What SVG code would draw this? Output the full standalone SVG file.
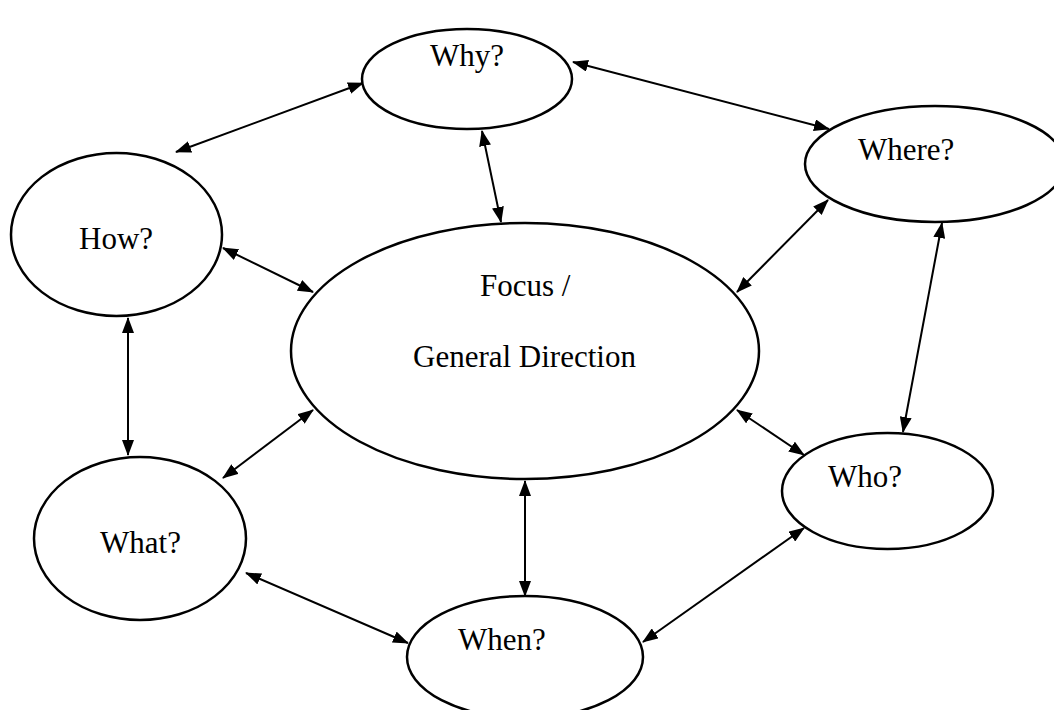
<svg xmlns="http://www.w3.org/2000/svg" width="1054" height="710" viewBox="0 0 1054 710">
  <style>
    .node { fill: #ffffff; stroke: #000000; stroke-width: 2.5; }
    .label { font-family: "Liberation Serif", "Times New Roman", serif; font-size: 31px; fill: #000000; }
    .link { stroke: #000000; stroke-width: 2; fill: none; marker-start: url(#head); marker-end: url(#head); }
  </style>
  <defs>
    <marker id="head" viewBox="0 0 16 12" markerUnits="userSpaceOnUse" markerWidth="16" markerHeight="12" refX="15" refY="6" orient="auto-start-reverse">
      <path d="M0,0 L16,6 L0,12 z" fill="#000000"/>
    </marker>
  </defs>
  <rect width="1054" height="710" fill="#ffffff"/>

  <!-- two-headed connectors between the question bubbles and the centre -->
  <g id="connectors">
    <line class="link" x1="176" y1="152" x2="363" y2="83"/>
    <line class="link" x1="573" y1="62" x2="829" y2="129"/>
    <line class="link" x1="482" y1="131" x2="501" y2="222"/>
    <line class="link" x1="223" y1="248" x2="313" y2="292"/>
    <line class="link" x1="828" y1="200" x2="737" y2="292"/>
    <line class="link" x1="942" y1="223" x2="903" y2="432"/>
    <line class="link" x1="128" y1="318" x2="128" y2="455"/>
    <line class="link" x1="313" y1="410" x2="223" y2="478"/>
    <line class="link" x1="737" y1="410" x2="804" y2="455"/>
    <line class="link" x1="525" y1="481" x2="525" y2="596"/>
    <line class="link" x1="246" y1="573" x2="408" y2="643"/>
    <line class="link" x1="804" y1="528" x2="643" y2="642"/>
  </g>

  <g id="node-why">
    <ellipse class="node" cx="467" cy="79" rx="105" ry="50"/>
    <text class="label" x="430" y="66">Why?</text>
  </g>
  <g id="node-where">
    <ellipse class="node" cx="935" cy="164" rx="130" ry="58"/>
    <text class="label" x="858" y="160">Where?</text>
  </g>
  <g id="node-how">
    <ellipse class="node" cx="116.5" cy="234.5" rx="105.5" ry="81.5"/>
    <text class="label" x="79" y="249">How?</text>
  </g>
  <g id="node-focus">
    <ellipse class="node" cx="525" cy="351" rx="234" ry="128"/>
    <text class="label" x="480" y="296">Focus /</text>
    <text class="label" x="413" y="367">General Direction</text>
  </g>
  <g id="node-who">
    <ellipse class="node" cx="887.5" cy="491" rx="105.5" ry="58"/>
    <text class="label" x="828" y="487">Who?</text>
  </g>
  <g id="node-what">
    <ellipse class="node" cx="140" cy="538.5" rx="106" ry="81.5"/>
    <text class="label" x="100" y="553">What?</text>
  </g>
  <g id="node-when">
    <ellipse class="node" cx="525" cy="657" rx="118" ry="61"/>
    <text class="label" x="458" y="650">When?</text>
  </g>
</svg>
